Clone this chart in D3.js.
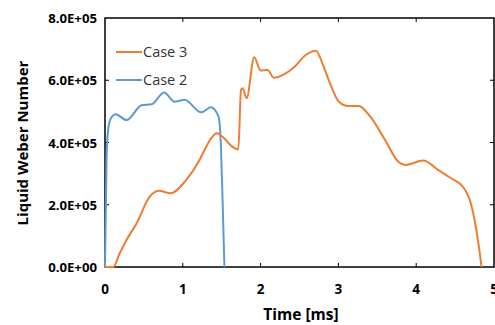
<!DOCTYPE html>
<html>
<head>
<meta charset="utf-8">
<script src="https://cdn.jsdelivr.net/npm/d3@7"></script>
<style>
  body { margin: 0; background: #fff; }
  svg text { font-family: "Open Sans", sans-serif; }
</style>
</head>
<body>
<div id="chart"></div>
<script>
// time in ms, Weber number
let case3Time = [0, 0.106, 0.19, 0.277, 0.405, 0.575, 0.695, 0.84, 1.045, 1.215, 1.28, 1.364, 1.436, 1.535, 1.62, 1.714,
    1.748, 1.77, 1.82, 1.918, 2.0, 2.09, 2.17, 2.30, 2.43, 2.58, 2.71, 2.81, 2.90, 3.005, 3.13, 3.26, 3.41, 3.60,
    3.77, 3.86, 4.09, 4.28, 4.45, 4.60, 4.69, 4.75, 4.80, 4.84];
let case3Value = [0, 0, 0.45e5, 0.87e5, 1.40e5, 2.26e5, 2.45e5, 2.37e5, 2.80e5, 3.44e5, 3.76e5, 4.13e5, 4.30e5, 4.13e5, 3.9e5, 3.78e5,
    5.69e5, 5.74e5, 5.42e5, 6.74e5, 6.31e5, 6.33e5, 6.08e5, 6.19e5, 6.42e5, 6.81e5, 6.95e5, 6.44e5, 5.85e5, 5.31e5, 5.17e5, 5.17e5, 4.83e5, 4.08e5,
    3.38e5, 3.28e5, 3.42e5, 3.12e5, 2.85e5, 2.58e5, 2.15e5, 1.51e5, 0.76e5, 0];

let case2Time = [0, 0.02, 0.04, 0.07, 0.137, 0.277, 0.47, 0.6, 0.76, 0.895, 1.02, 1.24, 1.36, 1.46, 1.49, 1.51, 1.535];
let case2Value = [0, 3.5e5, 4.4e5, 4.75e5, 4.91e5, 4.72e5, 5.2e5, 5.23e5, 5.61e5, 5.31e5, 5.37e5, 4.97e5, 5.13e5, 4.83e5, 3.87e5, 2.26e5, 0];

let xTicks = [0, 1, 2, 3, 4, 5];
let yTicks = [0, 2e5, 4e5, 6e5, 8e5];

let width = 495, height = 325;
let margin = { top: 18, right: 1, bottom: 58, left: 105 };

let svg = d3.select('#chart')
    .append('svg')
    .attr('width', width)
    .attr('height', height);

let xScale = d3.scaleLinear()
    .domain([0, 5])
    .range([margin.left, width - margin.right]);
let yScale = d3.scaleLinear()
    .domain([0, 8e5])
    .range([height - margin.bottom, margin.top]);

let fmt = v => v.toExponential(1).toUpperCase().replace(/E([+-])(\d)$/, 'E$10$2');

// box with inward ticks on all sides
let x0 = xScale.range()[0], x1 = xScale.range()[1];
let y0 = yScale.range()[0], y1 = yScale.range()[1];

let tickLen = 4;
svg.append('g').selectAll('line')
    .data(xTicks.slice(1, -1))
    .enter()
    .append('line')
    .attr('x1', d => xScale(d)).attr('x2', d => xScale(d))
    .attr('y1', y0).attr('y2', y0 - tickLen)
    .attr('stroke', '#000').attr('stroke-width', 1);
svg.append('g').selectAll('line')
    .data(xTicks.slice(1, -1))
    .enter()
    .append('line')
    .attr('x1', d => xScale(d)).attr('x2', d => xScale(d))
    .attr('y1', y1).attr('y2', y1 + tickLen)
    .attr('stroke', '#000').attr('stroke-width', 1);
svg.append('g').selectAll('line')
    .data(yTicks.slice(1, -1))
    .enter()
    .append('line')
    .attr('x1', x0).attr('x2', x0 + tickLen)
    .attr('y1', d => yScale(d)).attr('y2', d => yScale(d))
    .attr('stroke', '#000').attr('stroke-width', 1);
svg.append('g').selectAll('line')
    .data(yTicks.slice(1, -1))
    .enter()
    .append('line')
    .attr('x1', x1).attr('x2', x1 - tickLen)
    .attr('y1', d => yScale(d)).attr('y2', d => yScale(d))
    .attr('stroke', '#000').attr('stroke-width', 1);

svg.append('rect')
    .attr('x', x0).attr('y', y1)
    .attr('width', x1 - x0).attr('height', y0 - y1)
    .attr('fill', 'none')
    .attr('stroke', '#000')
    .attr('stroke-width', 1.5);

// tick labels
svg.append('g').selectAll('text')
    .data(xTicks)
    .enter()
    .append('text')
    .attr('x', d => xScale(d))
    .attr('y', y0 + 27)
    .attr('text-anchor', 'middle')
    .attr('font-size', 13.5)
    .attr('font-weight', 'bold')
    .text(d => d);

svg.append('g').selectAll('text')
    .data(yTicks)
    .enter()
    .append('text')
    .attr('x', x0 - 8)
    .attr('y', d => yScale(d) + 5)
    .attr('text-anchor', 'end')
    .attr('font-size', 13.2)
    .attr('font-weight', 'bold')
    .text(d => fmt(d));

// axis titles
svg.append('text')
    .attr('x', 301)
    .attr('y', 320)
    .attr('text-anchor', 'middle')
    .attr('font-size', 15.5)
    .attr('font-weight', 'bold')
    .text('Time [ms]');

svg.append('text')
    .attr('transform', `translate(28, 143) rotate(-90)`)
    .attr('text-anchor', 'middle')
    .attr('font-size', 15)
    .attr('font-weight', 'bold')
    .text('Liquid Weber Number');

// lines
let series = [
    { name: 'Case 3', time: case3Time, value: case3Value, color: '#ED7D31' },
    { name: 'Case 2', time: case2Time, value: case2Value, color: '#5B9BD5' }
];

let line = d3.line()
    .x(d => xScale(d[0]))
    .y(d => yScale(d[1]))
    .curve(d3.curveMonotoneX);

svg.append('g').selectAll('path')
    .data(series.slice().reverse())
    .enter()
    .append('path')
    .attr('d', s => line(s.time.map((t, i) => [t, s.value[i]])))
    .attr('fill', 'none')
    .attr('stroke', s => s.color)
    .attr('stroke-width', 2);

// legend
let legend = svg.append('g').selectAll('g')
    .data(series)
    .enter()
    .append('g')
    .attr('transform', (d, i) => `translate(116, ${52 + i * 28})`);
legend.append('line')
    .attr('x1', 0).attr('x2', 26)
    .attr('stroke', d => d.color)
    .attr('stroke-width', 2);
legend.append('text')
    .attr('x', 27)
    .attr('y', 5)
    .attr('font-size', 14.5)
    .attr('fill', '#333')
    .text(d => d.name);
</script>
</body>
</html>
